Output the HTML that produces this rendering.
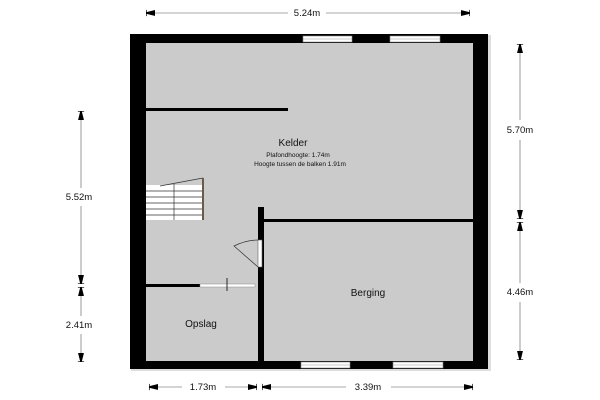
<!DOCTYPE html>
<html><head><style>body{margin:0;background:#fff}svg{display:block}text{font-family:"Liberation Sans",sans-serif;fill:#111}</style></head>
<body>
<svg width="600" height="400" viewBox="0 0 600 400" xmlns="http://www.w3.org/2000/svg">
<defs>
<marker id="a" viewBox="0 0 10 10" refX="10" refY="5" markerWidth="9" markerHeight="9" markerUnits="userSpaceOnUse" orient="auto-start-reverse"><path d="M0,2.5 L10,5 L0,7.5z M10,1.5 V8.5" fill="#000" stroke="#000" stroke-width="1.5"/></marker>
</defs>
<rect x="131" y="35" width="360" height="336" fill="#bbb" opacity="0.5"/>
<rect x="130" y="34" width="358" height="335" fill="#000"/>
<rect x="146" y="43" width="327" height="318" fill="#cbcbcb"/>
<rect x="303" y="36" width="49" height="6" fill="#fff" stroke="#888" stroke-width="0.6"/>
<line x1="303" y1="39" x2="352" y2="39" stroke="#999" stroke-width="0.6"/>
<rect x="390" y="36" width="50" height="6" fill="#fff" stroke="#888" stroke-width="0.6"/>
<line x1="390" y1="39" x2="440" y2="39" stroke="#999" stroke-width="0.6"/>
<rect x="301" y="362" width="49" height="6" fill="#fff" stroke="#888" stroke-width="0.6"/>
<line x1="301" y1="365" x2="350" y2="365" stroke="#999" stroke-width="0.6"/>
<rect x="393" y="362" width="50" height="6" fill="#fff" stroke="#888" stroke-width="0.6"/>
<line x1="393" y1="365" x2="443" y2="365" stroke="#999" stroke-width="0.6"/>
<rect x="146" y="108" width="142" height="3" fill="#000"/>
<rect x="258" y="207" width="6" height="154" fill="#000"/>
<rect x="264" y="219" width="209" height="3" fill="#000"/>
<rect x="146" y="284" width="54" height="3" fill="#000"/>
<rect x="200" y="284" width="55" height="3" fill="#fff" stroke="#888" stroke-width="0.5"/>
<line x1="227" y1="278" x2="227" y2="291" stroke="#000" stroke-width="0.8"/>
<rect x="258" y="240" width="4" height="27" fill="#fff" stroke="#666" stroke-width="0.6"/>
<path d="M258,267 L234,246 Q246,240 258,240" fill="none" stroke="#333" stroke-width="0.7"/>
<rect x="146" y="185" width="57" height="35" fill="#fff"/>
<g stroke="#333" stroke-width="0.7">
<line x1="146" y1="191" x2="203" y2="191"/><line x1="146" y1="197" x2="203" y2="197"/><line x1="146" y1="203" x2="203" y2="203"/><line x1="146" y1="209" x2="203" y2="209"/><line x1="146" y1="215" x2="203" y2="215"/><line x1="174" y1="184" x2="174" y2="220"/>
<line x1="160" y1="186" x2="203" y2="178"/>
</g>
<rect x="202" y="178" width="2" height="42" fill="#6a5a4a"/>
<text x="293" y="146" font-size="10" text-anchor="middle">Kelder</text>
<text x="298" y="157" font-size="6.5" text-anchor="middle">Plafondhoogte: 1.74m</text>
<text x="300" y="166" font-size="6.5" text-anchor="middle">Hoogte tussen de balken 1.91m</text>
<text x="368" y="296" font-size="10" text-anchor="middle">Berging</text>
<text x="201" y="327" font-size="10" text-anchor="middle">Opslag</text>
<g stroke="#555" stroke-width="0.6" fill="none">
<line x1="146" y1="13" x2="288" y2="13" marker-start="url(#a)"/><line x1="326" y1="13" x2="470" y2="13" marker-end="url(#a)"/>
<line x1="520" y1="44" x2="520" y2="120" marker-start="url(#a)"/><line x1="520" y1="140" x2="520" y2="219" marker-end="url(#a)"/>
<line x1="520" y1="222" x2="520" y2="283" marker-start="url(#a)"/><line x1="520" y1="302" x2="520" y2="360" marker-end="url(#a)"/>
<line x1="81" y1="111" x2="81" y2="188" marker-start="url(#a)"/><line x1="81" y1="206" x2="81" y2="284" marker-end="url(#a)"/>
<line x1="81" y1="287" x2="81" y2="316" marker-start="url(#a)"/><line x1="81" y1="334" x2="81" y2="362" marker-end="url(#a)"/>
<line x1="149" y1="387" x2="182" y2="387" marker-start="url(#a)"/><line x1="225" y1="387" x2="257" y2="387" marker-end="url(#a)"/>
<line x1="262" y1="387" x2="346" y2="387" marker-start="url(#a)"/><line x1="391" y1="387" x2="473" y2="387" marker-end="url(#a)"/>
</g>
<text x="307" y="16" font-size="9.5" text-anchor="middle">5.24m</text>
<text x="520" y="133" font-size="9.5" text-anchor="middle">5.70m</text>
<text x="520" y="295" font-size="9.5" text-anchor="middle">4.46m</text>
<text x="79" y="200" font-size="9.5" text-anchor="middle">5.52m</text>
<text x="79" y="328" font-size="9.5" text-anchor="middle">2.41m</text>
<text x="203" y="390" font-size="9.5" text-anchor="middle">1.73m</text>
<text x="368" y="390" font-size="9.5" text-anchor="middle">3.39m</text>
</svg>
</body></html>
